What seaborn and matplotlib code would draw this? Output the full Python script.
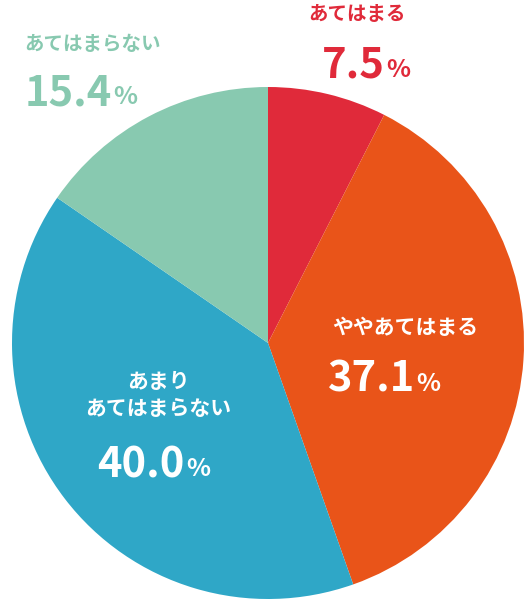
import matplotlib
matplotlib.use("Agg")
import matplotlib.pyplot as plt
import seaborn as sns

sns.set_theme(style="white")
plt.rcParams['font.family'] = ['Noto Sans CJK JP', 'DejaVu Sans']

labels = ["あてはまる", "ややあてはまる", "あまり\nあてはまらない", "あてはまらない"]
values = [7.5, 37.1, 40.0, 15.4]
colors = ["#e02a3a", "#e95419", "#2fa7c7", "#88c9b0"]

W, H = 524, 600
fig = plt.figure(figsize=(W / 100, H / 100), dpi=100)
ax = fig.add_axes([12 / W, 1 / H, 512 / W, 512 / H])
ax.pie(values, colors=colors, startangle=90, counterclock=False,
       radius=1, wedgeprops=dict(linewidth=0))
ax.set_xlim(-1, 1)
ax.set_ylim(-1, 1)
ax.set_aspect("equal")
ax.axis("off")


def px(x, y):
    return x / W, 1 - y / H


def pct_text(x, y, val, color, size=30):
    # number right-aligned at x, smaller % sign just after
    fig.text(*px(x, y), f"{val:.1f}", color=color, fontsize=size,
             fontweight="bold", ha="right", va="center")
    fig.text(*px(x + 1, y + 4), "%", color=color, fontsize=size * 0.6,
             fontweight="bold", ha="left", va="center")


# outside labels
fig.text(*px(357, 14), labels[0], color=colors[0], fontsize=14,
         fontweight="bold", ha="center", va="center")
pct_text(385, 66, values[0], colors[0])
fig.text(*px(92, 45), labels[3], color=colors[3], fontsize=14,
         fontweight="bold", ha="center", va="center")
pct_text(112, 93, values[3], colors[3])

# inside labels
fig.text(*px(405, 328), labels[1], color="white", fontsize=15,
         fontweight="bold", ha="center", va="center")
pct_text(415, 380, values[1], "white")
fig.text(*px(158, 395), labels[2], color="white", fontsize=15,
         fontweight="bold", ha="center", va="center", linespacing=1.3)
pct_text(185, 465, values[2], "white")

fig.savefig("out.png", dpi=100)
